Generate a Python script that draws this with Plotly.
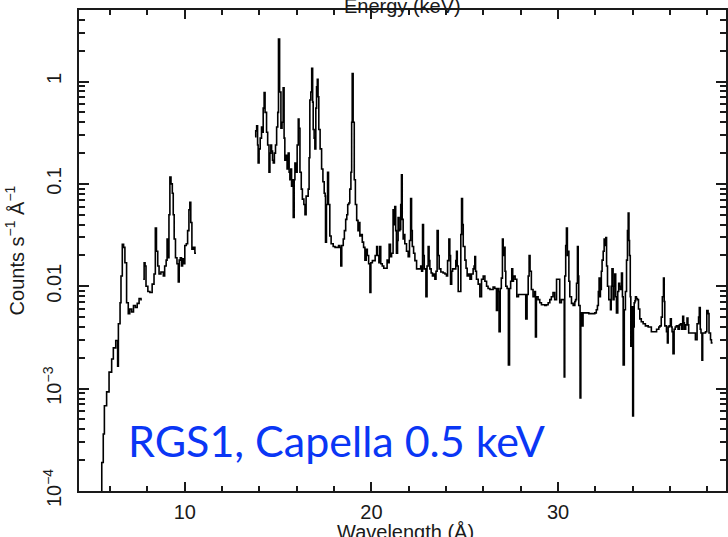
import plotly.graph_objects as go

# RGS1 spectrum of Capella: wavelength (Å) and count rate (counts s^-1 Å^-1)
# short-wavelength chip, first part
wl_a1 = [5.40, 5.55, 5.63, 5.69, 5.81, 5.94, 6.08, 6.17, 6.30, 6.40, 6.44, 6.53, 6.58,
         6.65, 6.72, 6.79, 6.88, 6.97, 7.05, 7.15, 7.25, 7.35, 7.45, 7.55, 7.65, 7.70]
cts_a1 = [8e-5, 1.9e-4, 3.6e-4, 6.8e-4, 9.3e-4, 1.45e-3, 1.95e-3, 2.5e-3, 2.95e-3, 1.66e-3, 4.3e-3,
          6.9e-3, 1.26e-2, 2.57e-2, 2.4e-2, 1.7e-2, 6.9e-3, 5.4e-3, 6.0e-3, 5.6e-3, 6.5e-3,
          6.2e-3, 6.8e-3, 7.6e-3, 7.4e-3, 7.4e-3]

# short-wavelength chip, second part
wl_a2 = [7.77, 7.82, 7.87, 7.92, 8.02, 8.13, 8.25, 8.35, 8.42, 8.48, 8.55, 8.62, 8.72, 8.85,
         8.92, 9.00, 9.05, 9.10, 9.15, 9.20, 9.26, 9.33, 9.38, 9.43, 9.50, 9.58, 9.65, 9.70,
         9.76, 9.82, 9.88, 9.95, 10.00, 10.08, 10.15, 10.22, 10.27, 10.32, 10.38, 10.46,
         10.54, 10.60]
cts_a2 = [1.17e-2, 1.7e-2, 1.58e-2, 1.0e-2, 8.9e-3, 8.7e-3, 1.05e-2, 1.32e-2, 3.7e-2, 2.2e-2,
          1.58e-2, 1.32e-2, 1.38e-2, 1.26e-2, 1.58e-2, 1.8e-2, 2.9e-2, 1.9e-2, 5.0e-2, 0.117,
          0.1, 8.1e-2, 5.0e-2, 2.9e-2, 1.9e-2, 1.66e-2, 1.1e-2, 1.8e-2, 1.9e-2, 1.58e-2,
          1.86e-2, 1.66e-2, 2.5e-2, 2.6e-2, 3.5e-2, 5.6e-2, 6.6e-2, 4.2e-2, 2.3e-2, 2.4e-2,
          2.1e-2, 2.1e-2]

# long-wavelength part
wl_b = [13.76, 13.80, 13.85, 13.90, 13.93, 13.98, 14.04, 14.11, 14.16, 14.20, 14.25, 14.30,
        14.38, 14.44, 14.51, 14.56, 14.61, 14.65, 14.70, 14.74, 14.80, 14.86, 14.92, 14.98,
        15.02, 15.08, 15.15, 15.21, 15.27, 15.32, 15.36, 15.42, 15.48, 15.54, 15.59, 15.63,
        15.68, 15.72, 15.77, 15.81, 15.86, 15.90, 15.96, 16.02, 16.08, 16.12, 16.17, 16.24,
        16.30, 16.38, 16.44, 16.50, 16.56, 16.61, 16.66, 16.70, 16.75, 16.80, 16.85, 16.88,
        16.93, 16.97, 17.02, 17.06, 17.10, 17.14, 17.18, 17.25, 17.33, 17.40, 17.47, 17.52,
        17.54, 17.59, 17.65, 17.70, 17.77, 17.84, 17.95, 18.05, 18.15, 18.24, 18.31, 18.36,
        18.41, 18.49, 18.55, 18.62, 18.68, 18.73, 18.79, 18.84, 18.90, 18.94, 18.97, 19.02,
        19.08, 19.14, 19.21, 19.28, 19.33, 19.38, 19.45, 19.51, 19.58, 19.65, 19.72, 19.78,
        19.85, 19.92, 19.97, 20.05, 20.13, 20.20, 20.28, 20.33, 20.40, 20.45, 20.50, 20.58,
        20.66, 20.77, 20.84, 20.90, 20.95, 21.02, 21.08, 21.16, 21.22, 21.25, 21.30, 21.34,
        21.40, 21.43, 21.48, 21.52, 21.57, 21.61, 21.65, 21.70, 21.75, 21.79, 21.88, 21.97,
        22.04, 22.10, 22.15, 22.19, 22.26, 22.33, 22.42, 22.56, 22.64, 22.69, 22.74, 22.79,
        22.83, 22.92, 22.98, 23.04, 23.09, 23.13, 23.20, 23.27, 23.34, 23.40, 23.46, 23.52,
        23.58, 23.63, 23.72, 23.84, 23.94, 24.02, 24.08, 24.15, 24.20, 24.24, 24.30, 24.35,
        24.46, 24.52, 24.56, 24.60, 24.65, 24.74, 24.79, 24.83, 24.88, 24.92, 25.01, 25.07,
        25.13, 25.20, 25.28, 25.36, 25.45, 25.50, 25.54, 25.58, 25.63, 25.72, 25.81, 25.90,
        25.99, 26.08, 26.17, 26.25, 26.35, 26.43, 26.52, 26.61, 26.70, 26.75, 26.80, 26.84,
        26.90, 26.96, 27.02, 27.06, 27.11, 27.16, 27.20, 27.27, 27.34, 27.40, 27.46, 27.52,
        27.57, 27.61, 27.70, 27.79, 27.88, 27.97, 28.10, 28.22, 28.27, 28.34, 28.40, 28.45,
        28.50, 28.57, 28.66, 28.75, 28.79, 28.84, 28.93, 29.02, 29.11, 29.20, 29.29, 29.38,
        29.47, 29.56, 29.64, 29.73, 29.82, 29.92, 30.04, 30.09, 30.18, 30.27, 30.33, 30.36,
        30.41, 30.45, 30.50, 30.54, 30.58, 30.63, 30.72, 30.81, 30.90, 30.94, 30.99, 31.04,
        31.08, 31.11, 31.18, 31.22, 31.29, 31.34, 31.43, 31.52, 31.65, 31.79, 31.97, 32.05,
        32.11, 32.16, 32.20, 32.24, 32.27, 32.32, 32.36, 32.42, 32.47, 32.52, 32.56, 32.60,
        32.65, 32.72, 32.81, 32.85, 32.89, 32.95, 33.00, 33.04, 33.09, 33.13, 33.20, 33.25,
        33.30, 33.34, 33.40, 33.45, 33.49, 33.55, 33.61, 33.67, 33.72, 33.76, 33.80, 33.83,
        33.87, 33.90, 33.95, 34.00, 34.04, 34.08, 34.12, 34.15, 34.20, 34.25, 34.31, 34.38,
        34.46, 34.56, 34.68, 34.83, 35.00, 35.14, 35.28, 35.40, 35.46, 35.53, 35.59, 35.65,
        35.69, 35.72, 35.81, 35.86, 35.90, 35.95, 36.02, 36.07, 36.11, 36.16, 36.22, 36.28,
        36.34, 36.43, 36.50, 36.56, 36.62, 36.68, 36.73, 36.77, 36.84, 36.91, 36.96, 37.00,
        37.14, 37.29, 37.36, 37.45, 37.53, 37.57, 37.62, 37.66, 37.71, 37.75, 37.79, 37.90,
        37.97, 38.04, 38.09, 38.17, 38.22, 38.28]
cts_b = [0.29, 0.33, 0.37, 0.24, 0.16, 0.22, 0.28, 0.36, 0.32, 0.55, 0.78, 0.50,
         0.32, 0.24, 0.13, 0.20, 0.24, 0.21, 0.17, 0.16, 0.20, 0.24, 0.36, 0.50,
         2.6, 0.79, 0.35, 0.40, 0.87, 0.28, 0.17, 0.19, 0.14, 0.20, 0.13, 0.11,
         0.14, 0.095, 0.11, 0.047, 0.11, 0.16, 0.13, 0.24, 0.43, 0.35, 0.13, 0.089,
         0.071, 0.063, 0.050, 0.076, 0.076, 0.089, 0.18, 0.66, 0.79, 1.35, 0.63, 0.34,
         0.28, 0.22, 0.55, 0.89, 1.05, 0.71, 0.34, 0.22, 0.14, 0.105, 0.081, 0.076,
         0.027, 0.063, 0.13, 0.063, 0.031, 0.026, 0.0245, 0.024, 0.024, 0.025, 0.024, 0.0158,
         0.025, 0.029, 0.035, 0.045, 0.050, 0.063, 0.065, 0.089, 0.13, 0.40, 1.2, 0.40,
         0.11, 0.063, 0.044, 0.035, 0.042, 0.031, 0.032, 0.027, 0.024, 0.018, 0.023, 0.020,
         0.0166, 0.0087, 0.017, 0.0178, 0.0178, 0.020, 0.0245, 0.020, 0.017, 0.0245, 0.0166, 0.0158,
         0.015, 0.015, 0.018, 0.017, 0.0257, 0.0195, 0.021, 0.056, 0.040, 0.060, 0.035, 0.021,
         0.028, 0.047, 0.035, 0.036, 0.063, 0.123, 0.045, 0.029, 0.032, 0.026, 0.022, 0.0195,
         0.028, 0.072, 0.035, 0.0245, 0.021, 0.0178, 0.0148, 0.0148, 0.0158, 0.014, 0.040, 0.020,
         0.0148, 0.0079, 0.0158, 0.0245, 0.0178, 0.0148, 0.0135, 0.0126, 0.0132, 0.0117, 0.014, 0.035,
         0.020, 0.0148, 0.0138, 0.0135, 0.0132, 0.0126, 0.0178, 0.029, 0.020, 0.0105, 0.014, 0.0148,
         0.0148, 0.0178, 0.022, 0.0158, 0.0089, 0.0089, 0.032, 0.072, 0.040, 0.0245, 0.018, 0.015,
         0.0126, 0.0132, 0.0117, 0.0132, 0.0148, 0.0158, 0.0195, 0.014, 0.0117, 0.0105, 0.0079, 0.0117,
         0.0126, 0.0112, 0.010, 0.0095, 0.0093, 0.0093, 0.0098, 0.0095, 0.0058, 0.0095, 0.0089, 0.0036,
         0.0095, 0.012, 0.029, 0.020, 0.024, 0.014, 0.010, 0.0095, 0.0017, 0.0095, 0.0112, 0.0148,
         0.0112, 0.0126, 0.0117, 0.0079, 0.0083, 0.0083, 0.0083, 0.0083, 0.0048, 0.0083, 0.0126, 0.020,
         0.014, 0.0093, 0.0079, 0.0089, 0.0032, 0.0079, 0.0074, 0.0069, 0.0066, 0.0066, 0.0065, 0.0066,
         0.0069, 0.0074, 0.0079, 0.0087, 0.0074, 0.0117, 0.0117, 0.0069, 0.0074, 0.0074, 0.0013, 0.0126,
         0.025, 0.037, 0.020, 0.022, 0.0112, 0.0079, 0.0068, 0.0065, 0.0071, 0.0074, 0.0107, 0.0245,
         0.0126, 0.0065, 0.00081, 0.0055, 0.0041, 0.0055, 0.0055, 0.0055, 0.0054, 0.0054, 0.0055, 0.0059,
         0.0065, 0.0089, 0.012, 0.0079, 0.0093, 0.014, 0.018, 0.022, 0.029, 0.025, 0.030, 0.0158,
         0.010, 0.0074, 0.0059, 0.010, 0.0148, 0.0074, 0.010, 0.0132, 0.0079, 0.0055, 0.0089, 0.0107,
         0.010, 0.0093, 0.0135, 0.0079, 0.0017, 0.0059, 0.0089, 0.018, 0.035, 0.052, 0.028, 0.020,
         0.0079, 0.0026, 0.0063, 0.00054, 0.004, 0.0069, 0.0072, 0.0079, 0.0076, 0.0074, 0.006, 0.0048,
         0.0045, 0.0043, 0.0041, 0.004, 0.0036, 0.0036, 0.0038, 0.004, 0.0041, 0.005, 0.0079, 0.012,
         0.0071, 0.0041, 0.0036, 0.0028, 0.004, 0.0041, 0.0048, 0.004, 0.0036, 0.0022, 0.0038, 0.004,
         0.0041, 0.0038, 0.0042, 0.0043, 0.0038, 0.0051, 0.0044, 0.0038, 0.0042, 0.0049, 0.0042, 0.0035,
         0.0035, 0.0035, 0.003, 0.0043, 0.005, 0.0062, 0.0038, 0.0035, 0.0019, 0.0035, 0.0035, 0.0036,
         0.0058, 0.0054, 0.0035, 0.003, 0.0028, 0.0028]

# axis ticks
x_major = [10, 20, 30]
x_major_text = ["10", "20", "30"]
y_major = [1e-4, 1e-3, 1e-2, 1e-1, 1]
y_major_text = ["10<sup>\u22124</sup>", "10<sup>\u22123</sup>", "0.01", "0.1", "1"]
y_minor = [d * 10.0 ** e for e in range(-4, 1) for d in range(2, 10)]

label_text = "RGS1, Capella 0.5 keV"

# join the pieces with gaps so the line breaks between detector chips
wl = wl_a1 + [None] + wl_a2 + [None] + wl_b
cts = cts_a1 + [None] + cts_a2 + [None] + cts_b

ink = "#1a1a1a"
axis_font = dict(family="Liberation Sans, Arial, sans-serif", size=20, color=ink)

fig = go.Figure()
fig.add_trace(go.Scatter(
    x=wl, y=cts, mode="lines", line_shape="hv", connectgaps=False,
    line=dict(color="black", width=1.6), showlegend=False, hoverinfo="skip",
))

fig.update_layout(
    width=728, height=537,
    margin=dict(l=79, r=2, t=10, b=46),
    paper_bgcolor="white", plot_bgcolor="white",
    font=axis_font,
    xaxis=dict(
        range=[4.33, 39.0], tickmode="array", tickvals=x_major, ticktext=x_major_text,
        ticks="inside", ticklen=9, tickwidth=1.5, tickcolor=ink, ticklabelstandoff=2,
        minor=dict(tickmode="linear", tick0=0, dtick=2, ticks="inside", ticklen=5,
                   tickwidth=1.5, tickcolor=ink),
        showline=True, linecolor=ink, linewidth=1.5, mirror="ticks",
        showgrid=False, zeroline=False, tickfont=axis_font, automargin=False,
    ),
    yaxis=dict(
        type="log", range=[-4, 0.699], tickmode="array", tickvals=y_major,
        ticktext=y_major_text, tickangle=-90, ticklabelstandoff=8,
        ticks="inside", ticklen=10, tickwidth=1.5, tickcolor=ink,
        minor=dict(tickmode="array", tickvals=y_minor, ticks="inside", ticklen=6,
                   tickwidth=1.5, tickcolor=ink),
        showline=True, linecolor=ink, linewidth=1.5, mirror="ticks",
        showgrid=False, zeroline=False, tickfont=axis_font, automargin=False,
        title=dict(text="Counts s<sup>\u22121</sup> \u00c5<sup>\u22121</sup>", font=axis_font, standoff=10),
    ),
    annotations=[
        dict(text="Energy (keV)", x=0.5, y=1.0, xref="paper", yref="paper",
             xanchor="center", yanchor="bottom", yshift=-9, showarrow=False, font=axis_font),
        dict(text="Wavelength (\u00c5)", x=0.505, y=0.0, xref="paper", yref="paper",
             xanchor="center", yanchor="top", yshift=-28, showarrow=False, font=axis_font),
        dict(text=label_text, x=0.073, y=0.105, xref="paper", yref="paper",
             xanchor="left", yanchor="middle", showarrow=False,
             font=dict(family="Lato, Open Sans, sans-serif", size=43, color="#0a36f5")),
    ],
)

fig.write_html("out.html")
